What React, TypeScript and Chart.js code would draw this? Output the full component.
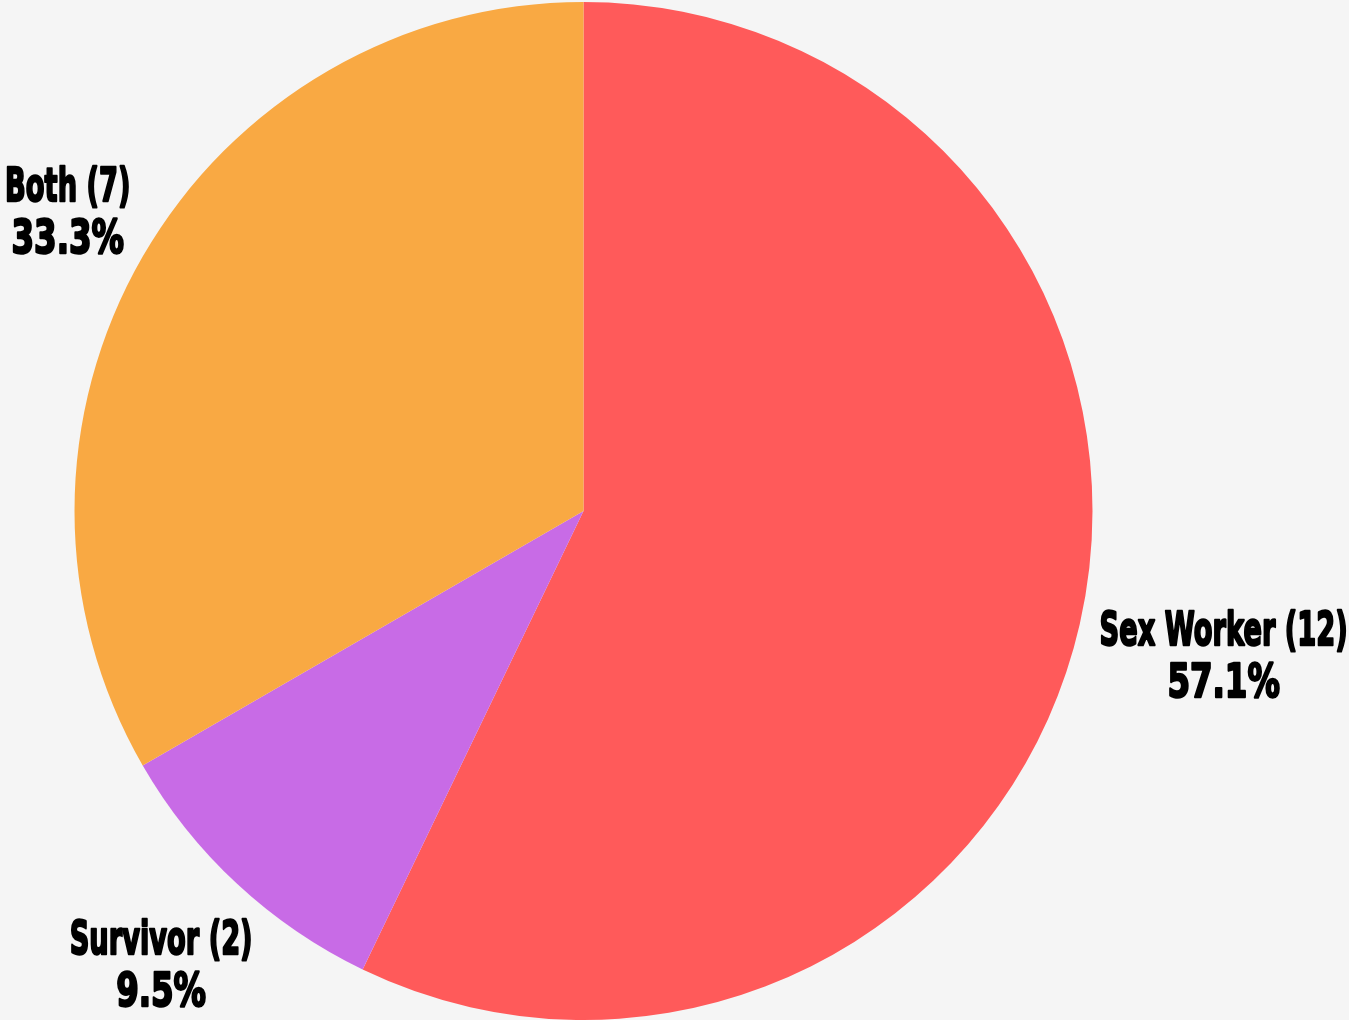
import React, { useEffect, useRef } from "react";
import { Chart, registerables } from "chart.js";

Chart.register(...registerables);

const categories = ["Sex Worker", "Survivor", "Both"];
const counts = [12, 2, 7];
const colors = ["#FF5A5A", "#C86BE6", "#F9A943"];
const labelRadiusFactors = [1.29, 1.22, 1.17];

const labelPlugin = {
  id: "sliceLabels",
  afterDatasetsDraw(chart: any) {
    const ctx = chart.ctx;
    const meta = chart.getDatasetMeta(0);
    const total = counts.reduce((a, b) => a + b, 0);
    const drawLine = (text: string, x: number, y: number, sx: number) => {
      ctx.save();
      ctx.translate(x, y);
      ctx.scale(sx, 1);
      ctx.fillStyle = "#000000";
      ctx.strokeStyle = "#000000";
      ctx.lineWidth = 2.5;
      ctx.lineJoin = "round";
      ctx.textAlign = "center";
      ctx.textBaseline = "middle";
      ctx.font = "bold 47px 'DejaVu Sans', sans-serif";
      ctx.strokeText(text, 0, 0);
      ctx.fillText(text, 0, 0);
      ctx.restore();
    };
    meta.data.forEach((arc: any, i: number) => {
      const mid = (arc.startAngle + arc.endAngle) / 2;
      const r = arc.outerRadius * labelRadiusFactors[i];
      const x = arc.x + Math.cos(mid) * r;
      const y = arc.y + Math.sin(mid) * r + 2;
      const pct = ((counts[i] / total) * 100).toFixed(1) + "%";
      drawLine(`${categories[i]} (${counts[i]})`, x, y - 26, 0.58);
      drawLine(pct, x, y + 26, 0.69);
    });
  },
};

export default function App() {
  const ref = useRef<HTMLCanvasElement>(null);
  useEffect(() => {
    if (!ref.current) return;
    const chart = new Chart(ref.current, {
      type: "pie",
      data: {
        labels: categories,
        datasets: [
          {
            data: counts,
            backgroundColor: colors,
            borderWidth: 0,
          },
        ],
      },
      options: {
        animation: false,
        responsive: true,
        maintainAspectRatio: false,
        layout: { padding: { top: 2, bottom: 0, left: 74.5, right: 256.5 } },
        plugins: {
          legend: { display: false },
          tooltip: { enabled: false },
        },
      },
      plugins: [labelPlugin],
    });
    return () => chart.destroy();
  }, []);
  return (
    <div
      style={{
        position: "fixed",
        left: 0,
        top: 0,
        width: 1349,
        height: 1020,
        background: "#F5F5F5",
      }}
    >
      <canvas ref={ref} />
    </div>
  );
}
